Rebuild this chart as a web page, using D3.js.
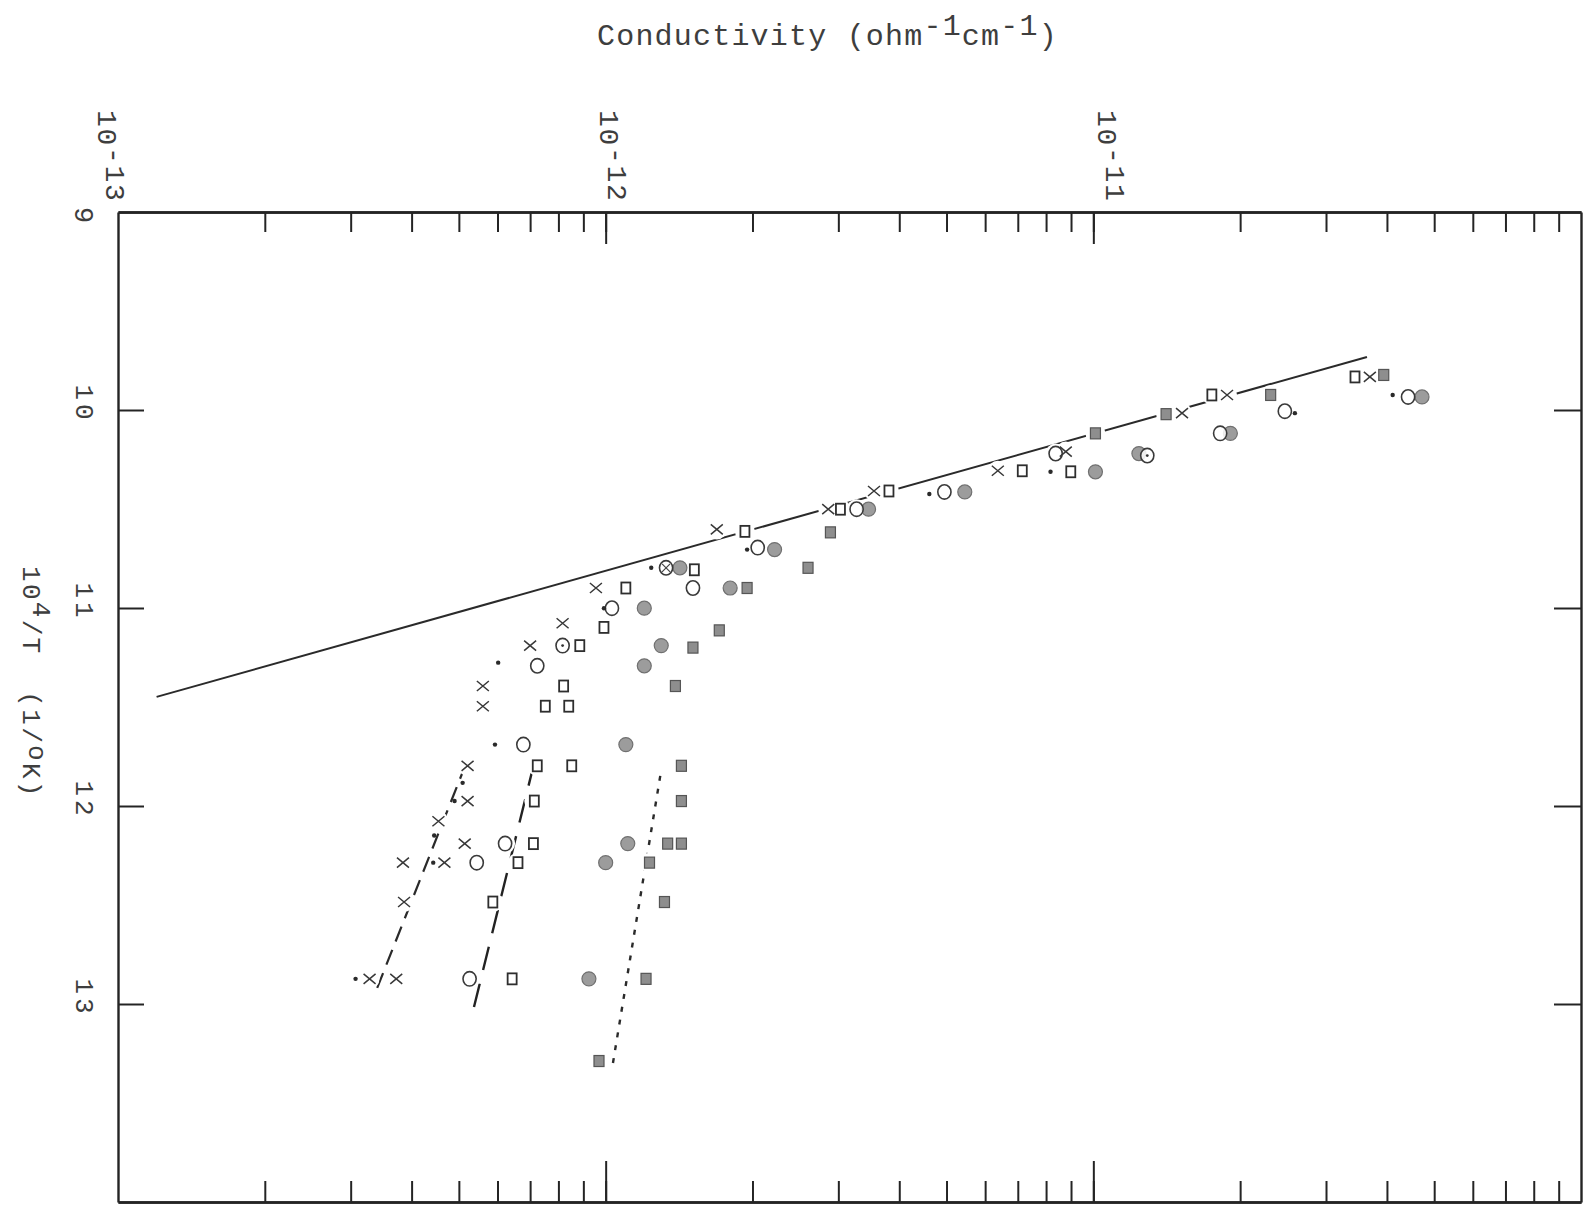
<!DOCTYPE html>
<html><head><meta charset="utf-8">
<script src="https://cdn.jsdelivr.net/npm/d3@7"></script>
<style>
html,body{margin:0;padding:0;background:#fff;}
svg{display:block;background:#fff;}
text{font-family:"Liberation Mono","DejaVu Sans Mono",monospace;fill:#3e3e3e;}
</style></head><body>
<svg id="chart" width="1584" height="1207"></svg>
<script>
// ---------- data (10^4/T , conductivity in ohm^-1 cm^-1) ----------
const titleText = ["Conductivity (ohm", "-1", "cm", "-1", ")"];
const yTitle = ["10", "4", "/T  (1/", "o", "K)"];
const decadeTicks = [1e-13, 1e-12, 1e-11];
const decadeBase = ["10", "10", "10"];
const decadeExp = ["-13", "-12", "-11"];
const invTTicks = [10, 11, 12, 13];
const invTLabels = ["10", "11", "12", "13"];
const cornerLabel = "9";

const crosses = [[9.833,3.69e-11],[9.924,1.88e-11],[10.016,1.52e-11],[10.210,8.78e-12],[10.307,6.37e-12],
 [10.409,3.55e-12],[10.501,2.86e-12],[10.603,1.69e-12],[10.899,9.55e-13],[11.077,8.16e-13],[11.190,7.0e-13],
 [11.394,5.6e-13],[11.496,5.6e-13],[11.797,5.21e-13],[11.975,5.21e-13],[12.077,4.54e-13],[12.190,5.14e-13],
 [12.286,3.84e-13],[12.286,4.67e-13],[12.485,3.86e-13],[12.873,3.28e-13],[12.873,3.72e-13]];
const openCircles = [[9.934,4.42e-11],[10.006,2.47e-11],[10.118,1.82e-11],[10.220,8.37e-12],[10.414,4.95e-12],
 [10.501,3.27e-12],[10.695,2.05e-12],[10.899,1.51e-12],[11.001,1.03e-12],[11.292,7.24e-13],[11.690,6.78e-13],
 [12.190,6.22e-13],[12.286,5.44e-13],[12.873,5.26e-13]];
const dottedCircles = [[10.230,1.29e-11],[11.190,8.16e-13]];
const crossedCircles = [[10.797,1.33e-12]];
const openSquares = [[9.833,3.44e-11],[9.924,1.75e-11],[10.307,7.15e-12],[10.312,8.99e-12],[10.409,3.81e-12],
 [10.501,3.03e-12],[10.613,1.93e-12],[10.807,1.52e-12],[10.899,1.10e-12],[11.098,9.92e-13],[11.190,8.85e-13],
 [11.394,8.2e-13],[11.496,7.52e-13],[11.496,8.4e-13],[11.797,7.24e-13],[11.797,8.52e-13],[11.975,7.14e-13],
 [12.190,7.11e-13],[12.286,6.61e-13],[12.485,5.87e-13],[12.873,6.43e-13]];
const greyCircles = [[9.934,4.72e-11],[10.118,1.91e-11],[10.220,1.24e-11],[10.312,1.01e-11],[10.414,5.45e-12],
 [10.501,3.46e-12],[10.705,2.22e-12],[10.797,1.42e-12],[10.899,1.80e-12],[11.001,1.20e-12],[11.190,1.30e-12],
 [11.292,1.20e-12],[11.690,1.10e-12],[12.190,1.11e-12],[12.286,1.0e-12],[12.873,9.24e-13]];
const greySquares = [[9.823,3.94e-11],[9.924,2.31e-11],[10.021,1.41e-11],[10.118,1.01e-11],[10.618,2.89e-12],
 [10.797,2.60e-12],[10.899,1.95e-12],[11.113,1.71e-12],[11.200,1.51e-12],[11.394,1.39e-12],[11.797,1.43e-12],
 [11.975,1.43e-12],[12.190,1.34e-12],[12.190,1.43e-12],[12.286,1.23e-12],[12.485,1.32e-12],[12.873,1.21e-12],
 [13.288,9.69e-13]];
const dots = [[9.924,4.11e-11],[10.016,2.59e-11],[10.312,8.17e-12],[10.424,4.61e-12],[10.705,1.95e-12],
 [10.797,1.24e-12],[11.001,9.92e-13],[11.276,6.02e-13],[11.690,5.93e-13],[11.883,5.09e-13],[11.975,4.9e-13],
 [12.149,4.45e-13],[12.286,4.43e-13],[12.873,3.07e-13]];
const mainLine = [[11.449,1.20e-13],[9.732,3.64e-11]];
const crossLine = [[12.919,3.40e-13],[11.803,5.14e-13]];
const squareLine = [[13.015,5.37e-13],[11.828,7.06e-13]];
const greySquareLine = [[13.298,1.035e-12],[11.818,1.30e-12]];

// ---------- layout ----------
const svg = d3.select("#chart");
const x = d3.scaleLog().domain([1e-13, 1e-10]).range([118, 1581]);
const y = d3.scaleLinear().domain([9, 14]).range([212, 1202]);
const labelShift = [-20, -6, 5];
const ink = "#242424";

// axes
const minor = x.ticks().filter(v => v > 1e-13 && v < 1e-10);
const styleAxis = g => {
  g.select(".domain").attr("stroke", ink).attr("stroke-width", 2.4);
  g.selectAll(".tick line").attr("stroke", ink).attr("stroke-width", 2);
  g.selectAll(".tick text").remove();
};
svg.append("g").attr("transform", "translate(0,212)")
  .call(d3.axisTop(x).tickValues(minor).tickSizeInner(-20).tickSizeOuter(0).tickFormat("")).call(styleAxis);
svg.append("g").attr("transform", "translate(0,212)")
  .call(d3.axisTop(x).tickValues(decadeTicks.slice(1)).tickSizeInner(-32).tickSizeOuter(0).tickFormat("")).call(styleAxis);
svg.append("g").attr("transform", "translate(0,1202)")
  .call(d3.axisBottom(x).tickValues(minor).tickSizeInner(-21).tickSizeOuter(0).tickFormat("")).call(styleAxis);
svg.append("g").attr("transform", "translate(0,1202)")
  .call(d3.axisBottom(x).tickValues(decadeTicks.slice(1)).tickSizeInner(-41).tickSizeOuter(0).tickFormat("")).call(styleAxis);
svg.append("g").attr("transform", "translate(118,0)")
  .call(d3.axisLeft(y).tickValues(invTTicks).tickSizeInner(-26).tickSizeOuter(0).tickFormat("")).call(styleAxis);
svg.append("g").attr("transform", "translate(1581,0)")
  .call(d3.axisRight(y).tickValues(invTTicks).tickSizeInner(-27).tickSizeOuter(0).tickFormat("")).call(styleAxis);

// tick labels (rotated, typewriter)
decadeTicks.forEach((v, i) => {
  const t = svg.append("text")
    .attr("transform", `translate(${x(v) + labelShift[i]},110) rotate(90)`)
    .attr("font-size", 28).attr("letter-spacing", 1.7);
  t.append("tspan").text(decadeBase[i]);
  t.append("tspan").attr("dy", -8).text(decadeExp[i]);
});
svg.append("text").attr("transform", `translate(75,${y(9) + 3}) rotate(90)`)
  .attr("font-size", 27).attr("text-anchor", "middle").text(cornerLabel);
invTTicks.forEach((v, i) => {
  svg.append("text").attr("transform", `translate(76,${y(v) - 6}) rotate(90)`)
    .attr("font-size", 26).attr("letter-spacing", 4).attr("text-anchor", "middle").text(invTLabels[i]);
});

// titles
const tt = svg.append("text").attr("x", 597).attr("y", 45).attr("font-size", 30).attr("letter-spacing", 1.2);
tt.append("tspan").text(titleText[0]);
tt.append("tspan").attr("dy", -10).text(titleText[1]);
tt.append("tspan").attr("dy", 10).text(titleText[2]);
tt.append("tspan").attr("dy", -10).text(titleText[3]);
tt.append("tspan").attr("dy", 10).text(titleText[4]);

const yt = svg.append("text").attr("transform", "translate(23,566) rotate(90)")
  .attr("font-size", 26).attr("letter-spacing", 2.3).attr("xml:space", "preserve");
yt.append("tspan").text(yTitle[0]);
yt.append("tspan").attr("dy", -10).text(yTitle[1]);
yt.append("tspan").attr("dy", 10).text(yTitle[2]);
yt.append("tspan").attr("dy", -6).text(yTitle[3]);
yt.append("tspan").attr("dy", 6).text(yTitle[4]);

// lines
const line = d3.line().x(d => x(d[1])).y(d => y(d[0]));
const lineLayer = svg.append("g").attr("fill", "none");
lineLayer.append("path").datum(mainLine).attr("d", line)
  .attr("stroke", "#2a2a2a").attr("stroke-width", 2);
lineLayer.append("path").datum(crossLine).attr("d", line)
  .attr("stroke", "#2a2a2a").attr("stroke-width", 2.2).attr("stroke-dasharray", "16,9");
lineLayer.append("path").datum(squareLine).attr("d", line)
  .attr("stroke", "#222").attr("stroke-width", 2.4).attr("stroke-dasharray", "24,14");
lineLayer.append("path").datum(greySquareLine).attr("d", line)
  .attr("stroke", "#2a2a2a").attr("stroke-width", 2.4).attr("stroke-dasharray", "5,8");

// halos to break lines around markers
const halo = svg.append("g");
[crosses, openCircles, dottedCircles, crossedCircles, openSquares, greyCircles, greySquares].forEach(s => {
  halo.selectAll(null).data(s).join("circle")
    .attr("cx", d => x(d[1])).attr("cy", d => y(d[0])).attr("r", 10).attr("fill", "#fff");
});

// markers
const mk = svg.append("g");
const pos = d => `translate(${x(d[1])},${y(d[0])})`;
mk.selectAll(".gc").data(greyCircles).join("circle").attr("transform", pos)
  .attr("r", 7).attr("fill", "#9c9c9c").attr("stroke", "#707070").attr("stroke-width", 1.2);
mk.selectAll(".gs").data(greySquares).join("rect").attr("transform", pos)
  .attr("x", -5).attr("y", -5.5).attr("width", 10).attr("height", 11)
  .attr("fill", "#8e8e8e").attr("stroke", "#555").attr("stroke-width", 1.2);
mk.selectAll(".oc").data(openCircles.concat(dottedCircles, crossedCircles)).join("ellipse").attr("transform", pos)
  .attr("rx", 6.6).attr("ry", 7.2).attr("fill", "#fff").attr("fill-opacity", 0.85)
  .attr("stroke", "#3a3a3a").attr("stroke-width", 1.6);
mk.selectAll(".dc").data(dottedCircles).join("circle").attr("transform", pos)
  .attr("r", 1.4).attr("fill", "#333");
mk.selectAll(".xc").data(crossedCircles).join("path").attr("transform", pos)
  .attr("d", "M-4,-4L4,4M-4,4L4,-4").attr("stroke", "#444").attr("stroke-width", 1.2);
mk.selectAll(".os").data(openSquares).join("rect").attr("transform", pos)
  .attr("x", -4.5).attr("y", -5.5).attr("width", 9).attr("height", 11)
  .attr("fill", "#fff").attr("stroke", "#2e2e2e").attr("stroke-width", 1.8);
mk.selectAll(".cr").data(crosses).join("path").attr("transform", pos)
  .attr("d", "M-6,-5L6,5M-6,5L6,-5").attr("fill", "none")
  .attr("stroke", "#383838").attr("stroke-width", 1.5);
mk.selectAll(".dt").data(dots).join("circle").attr("transform", pos)
  .attr("r", 2.2).attr("fill", "#2a2a2a");
</script>
</body></html>
